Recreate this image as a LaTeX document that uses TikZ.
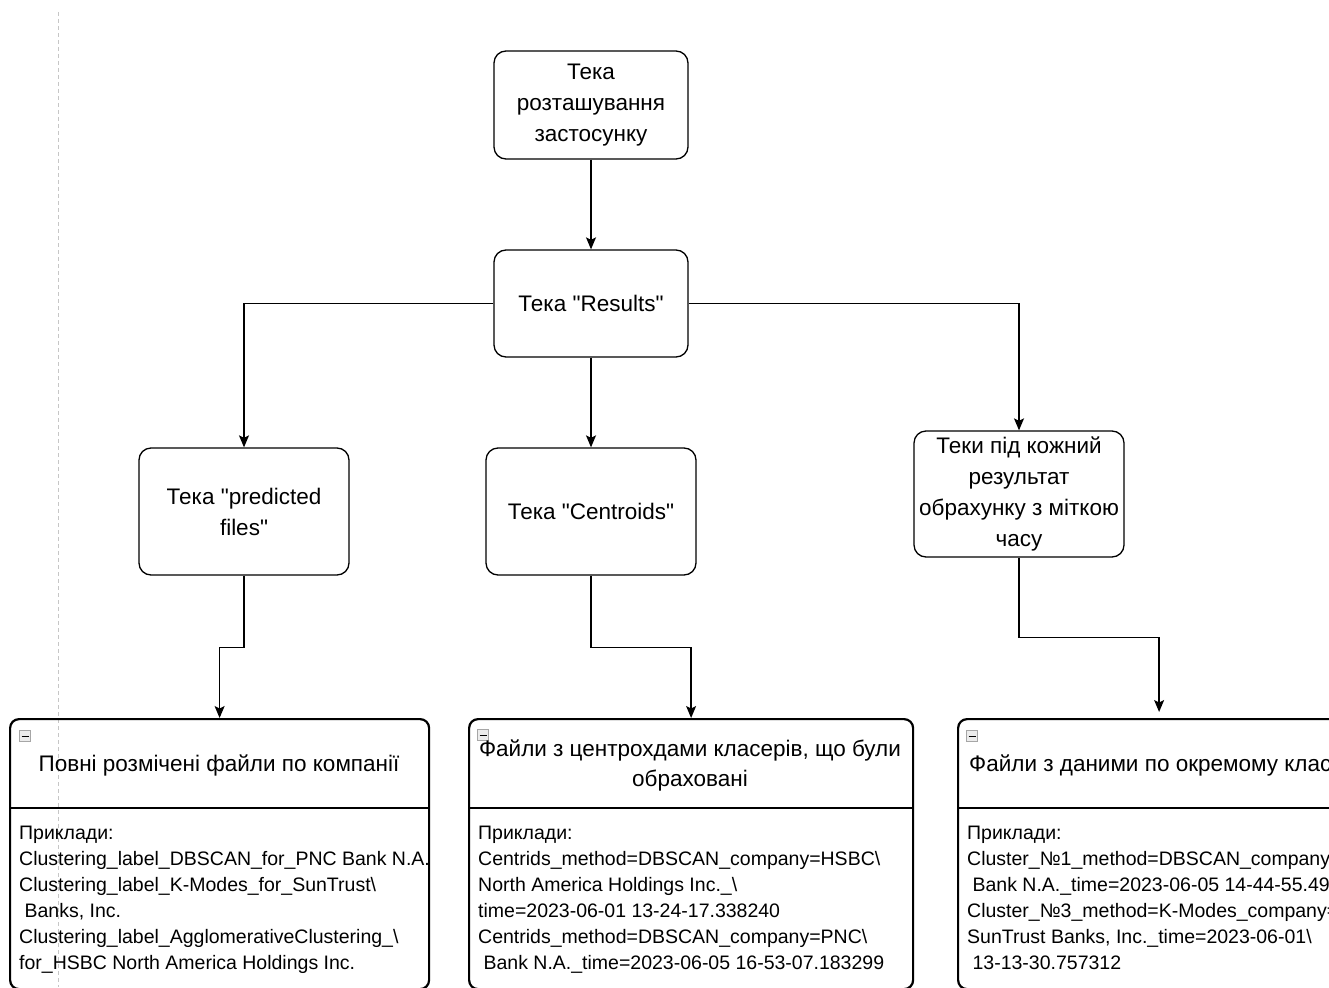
\documentclass[tikz,border=0pt]{standalone}
\usepackage{fontspec}
\setmainfont{Liberation Sans}
\usetikzlibrary{arrows.meta}
\begin{document}
\begin{tikzpicture}[x=1pt,y=-1pt,
  folder/.style={draw, line width=1.3pt, rounded corners=12pt, align=center,
    inner sep=0pt, font=\fontsize{22.5}{31}\selectfont},
  lane/.style={draw, line width=2.2pt, rounded corners=9pt, inner sep=0pt},
  link/.style={line width=1.4pt, -{Stealth[length=12pt,width=10pt,inset=2.5pt]}},
  head/.style={font=\fontsize{22.5}{30}\selectfont, align=center},
  body/.style={font=\fontsize{19.5}{26}\selectfont, align=left, anchor=north west, inner sep=0pt},
  fold/.style={draw=gray!70, fill=gray!15, line width=0.7pt, minimum size=11pt, inner sep=0pt}
]
\useasboundingbox (0,0) rectangle (1329,987);
\clip (0,0) rectangle (1329,987);

% page boundary guide
\draw[gray!45, line width=0.8pt, dash pattern=on 4pt off 3pt] (58,12) -- (58,987);

% folder boxes
\node[folder, minimum width=194pt, minimum height=108pt] (app) at (591,105)
  {Тека\\розташування\\застосунку};
\node[folder, minimum width=194pt, minimum height=107pt] (res) at (591,303.5)
  {Тека \textquotedbl Results\textquotedbl};
\node[folder, minimum width=210pt, minimum height=127pt] (pred) at (244,511.5)
  {Тека \textquotedbl predicted\\files\textquotedbl};
\node[folder, minimum width=210pt, minimum height=127pt] (cent) at (591,511.5)
  {Тека \textquotedbl Centroids\textquotedbl};
\node[folder, minimum width=210pt, minimum height=126pt] (runs) at (1019,494)
  {Теки під кожний\\результат\\обрахунку з міткою\\часу};

% swimlane boxes
\node[lane, minimum width=419pt, minimum height=270pt, anchor=north west] (lane1) at (9,718) {};
\node[lane, minimum width=444pt, minimum height=270pt, anchor=north west] (lane2) at (468,718) {};
\node[lane, minimum width=402pt, minimum height=270pt, anchor=north west] (lane3) at (957,718) {};

\draw[line width=2.2pt] (9,808) -- (428,808);
\draw[line width=2.2pt] (468,808) -- (912,808);
\draw[line width=2.2pt] (957,808) -- (1359,808);

% collapse markers
\node[fold] (f1) at (25,736) {};
\node[fold] (f2) at (483,735) {};
\node[fold] (f3) at (972,736) {};
\draw[line width=0.8pt] (21.5,736) -- (28.5,736);
\draw[line width=0.8pt] (479.5,735) -- (486.5,735);
\draw[line width=0.8pt] (968.5,736) -- (975.5,736);

% lane headers
\node[head] (h1) at (219,765) {Повні розмічені файли по компанії};
\node[head] (h2) at (690,765) {Файли з центрохдами класерів, що були\\обраховані};
\node[head, anchor=west, inner sep=0pt] (h3) at (969,765) {Файли з даними по окремому клас};

% lane bodies
\node[body] (b1) at (19,826) {Приклади:\\
Clustering\_label\_DBSCAN\_for\_PNC Bank N.A.\\
Clustering\_label\_K-Modes\_for\_SunTrust\textbackslash\\
\ Banks, Inc.\\
Clustering\_label\_AgglomerativeClustering\_\textbackslash\\
for\_HSBC North America Holdings Inc.};
\node[body] (b2) at (478,826) {Приклади:\\
Centrids\_method=DBSCAN\_company=HSBC\textbackslash\\
North America Holdings Inc.\_\textbackslash\\
time=2023-06-01 13-24-17.338240\\
Centrids\_method=DBSCAN\_company=PNC\textbackslash\\
\ Bank N.A.\_time=2023-06-05 16-53-07.183299};
\node[body] (b3) at (967,826) {Приклади:\\
Cluster\_№1\_method=DBSCAN\_company=\\
\ Bank N.A.\_time=2023-06-05 14-44-55.49\\
Cluster\_№3\_method=K-Modes\_company=\\
SunTrust Banks, Inc.\_time=2023-06-01\textbackslash\\
\ 13-13-30.757312};

% connectors
\draw[link] (app.south) -- (res.north);
\draw[link] (res.west) -| (pred.north);
\draw[link] (res.south) -- (cent.north);
\draw[link] (res.east) -| (runs.north);
\draw[link] (pred.south) -- ++(0,72) -| (lane1.north);
\draw[link] (cent.south) -- ++(0,72) -| (lane2.north);
\draw[link] (runs.south) -- ++(0,80) -| ([yshift=6pt]lane3.north);
\end{tikzpicture}
\end{document}
